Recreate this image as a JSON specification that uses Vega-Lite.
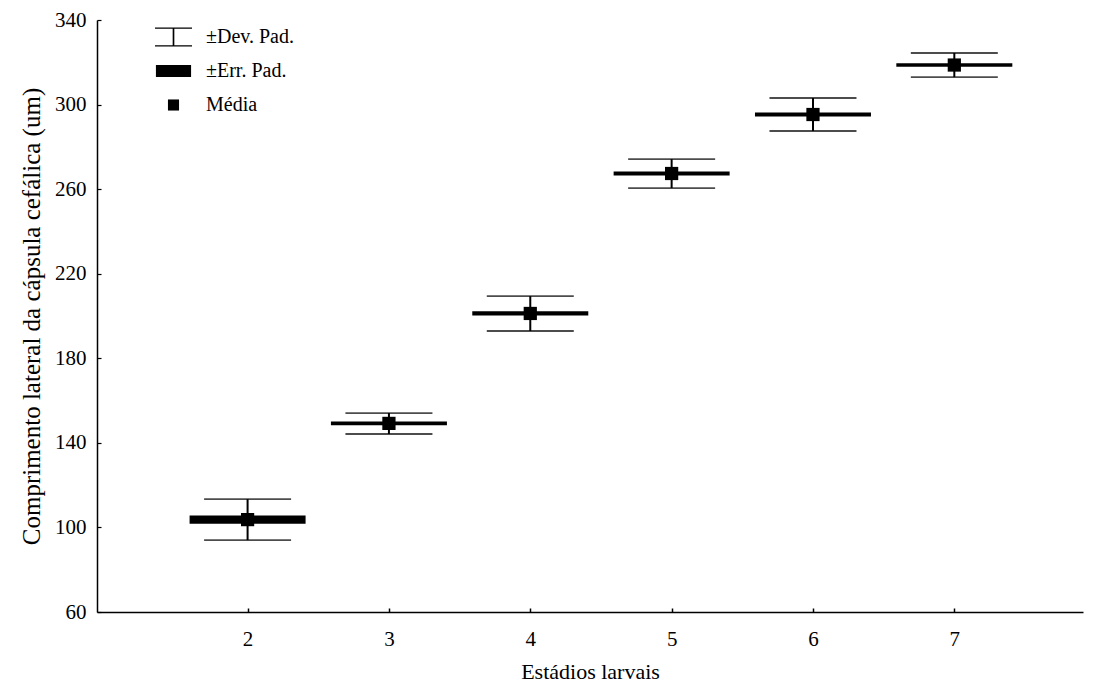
{
  "$schema": "https://vega.github.io/schema/vega-lite/v6.json",
  "width": 986,
  "height": 592,
  "autosize": "none",
  "padding": {"left": 97, "top": 20, "right": 11, "bottom": 74},
  "background": "white",
  "config": {
    "view": {"stroke": null},
    "font": "Liberation Serif",
    "axis": {
      "labelFont": "Liberation Serif",
      "titleFont": "Liberation Serif",
      "labelFontSize": 21,
      "titleFontSize": 22,
      "titleFontWeight": "normal",
      "labelColor": "black",
      "titleColor": "black",
      "domainColor": "black",
      "domainWidth": 1.5,
      "tickColor": "black",
      "grid": false
    }
  },
  "datasets": {
    "stats": [
      {"estadio": 2, "media": 103.7, "dp_inf": 94.0, "dp_sup": 113.4, "ep_inf": 101.7, "ep_sup": 105.7},
      {"estadio": 3, "media": 149.2, "dp_inf": 144.2, "dp_sup": 154.1, "ep_inf": 148.3, "ep_sup": 150.1},
      {"estadio": 4, "media": 201.2, "dp_inf": 192.9, "dp_sup": 209.4, "ep_inf": 200.2, "ep_sup": 202.2},
      {"estadio": 5, "media": 267.4, "dp_inf": 260.5, "dp_sup": 274.2, "ep_inf": 266.5, "ep_sup": 268.3},
      {"estadio": 6, "media": 295.3, "dp_inf": 287.5, "dp_sup": 303.1, "ep_inf": 294.3, "ep_sup": 296.3},
      {"estadio": 7, "media": 318.7, "dp_inf": 313.0, "dp_sup": 324.4, "ep_inf": 317.9, "ep_sup": 319.5}
    ],
    "legenda": [
      {"item": "±Dev. Pad."},
      {"item": "±Err. Pad."},
      {"item": "Média"}
    ]
  },
  "layer": [
    {
      "data": {"name": "stats"},
      "mark": {"type": "bar", "color": "black", "size": 116, "orient": "vertical"},
      "encoding": {
        "x": {
          "field": "estadio", "type": "quantitative",
          "scale": {"domain": [0.97, 7.875], "nice": false, "zero": false},
          "axis": {
            "values": [2, 3, 4, 5, 6, 7],
            "format": "d",
            "title": "Estádios larvais",
            "tickSize": -4,
            "tickWidth": 1.5,
            "labelPadding": 20,
            "titlePadding": 12
          }
        },
        "y": {
          "field": "ep_inf", "type": "quantitative",
          "scale": {"domain": [60, 340], "nice": false, "zero": false},
          "axis": {
            "values": [60, 100, 140, 180, 220, 260, 300, 340],
            "format": "d",
            "title": "Comprimento lateral da cápsula cefálica (um)",
            "titleFontSize": 25,
            "tickSize": -4,
            "tickWidth": 1.2,
            "labelPadding": 15,
            "titlePadding": 10
          }
        },
        "y2": {"field": "ep_sup"}
      }
    },
    {
      "data": {"name": "stats"},
      "mark": {"type": "rule", "color": "black", "strokeWidth": 2},
      "encoding": {
        "x": {"field": "estadio", "type": "quantitative"},
        "y": {"field": "dp_inf", "type": "quantitative"},
        "y2": {"field": "dp_sup"}
      }
    },
    {
      "data": {"name": "stats"},
      "mark": {"type": "tick", "color": "black", "orient": "horizontal", "size": 87, "thickness": 1.8},
      "encoding": {
        "x": {"field": "estadio", "type": "quantitative"},
        "y": {"field": "dp_inf", "type": "quantitative"}
      }
    },
    {
      "data": {"name": "stats"},
      "mark": {"type": "tick", "color": "black", "orient": "horizontal", "size": 87, "thickness": 1.8},
      "encoding": {
        "x": {"field": "estadio", "type": "quantitative"},
        "y": {"field": "dp_sup", "type": "quantitative"}
      }
    },
    {
      "data": {"name": "stats"},
      "mark": {"type": "point", "shape": "square", "filled": true, "color": "black", "size": 175, "opacity": 1},
      "encoding": {
        "x": {"field": "estadio", "type": "quantitative"},
        "y": {"field": "media", "type": "quantitative"}
      }
    },
    {
      "data": {"name": "legenda"},
      "mark": {"type": "point", "filled": true, "color": "black", "opacity": 0},
      "encoding": {
        "shape": {
          "field": "item", "type": "nominal",
          "scale": {
            "domain": ["±Dev. Pad.", "±Err. Pad.", "Média"],
            "range": [
              "M-1,-0.52H1V-0.44H-1Z M-0.045,-0.48H0.045V0.48H-0.045Z M-1,0.44H1V0.52H-1Z",
              "M-0.95,-0.32H0.95V0.32H-0.95Z",
              "M-0.3,-0.3H0.3V0.3H-0.3Z"
            ]
          },
          "legend": {
            "title": null,
            "orient": "none",
            "legendX": 58,
            "legendY": 2,
            "symbolSize": 1369,
            "symbolOpacity": 1,
            "symbolFillColor": "black",
            "symbolStrokeColor": "black",
            "symbolStrokeWidth": 0,
            "clipHeight": 30,
            "rowPadding": 4,
            "labelOffset": 14,
            "labelFont": "Liberation Serif",
            "labelFontSize": 20,
            "labelColor": "black"
          }
        }
      }
    }
  ]
}
